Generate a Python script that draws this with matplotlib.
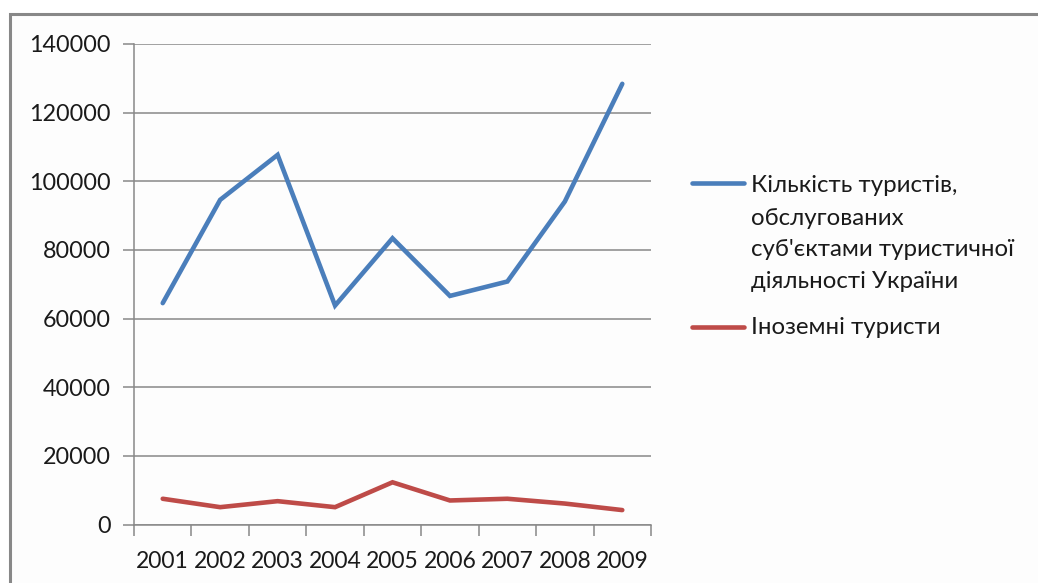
import matplotlib
matplotlib.use("Agg")
import matplotlib.pyplot as plt
from matplotlib.patches import Rectangle
from matplotlib.lines import Line2D

years = ["2001", "2002", "2003", "2004", "2005", "2006", "2007", "2008", "2009"]
tourists_total = [64500, 94600, 107700, 63800, 83400, 66600, 70800, 94100, 128400]
tourists_foreign = [7500, 5050, 6800, 5050, 12300, 7000, 7500, 6100, 4200]
label_total = ["Кількість туристів,", "обслугованих", "суб'єктами туристичної", "діяльності України"]
label_foreign = "Іноземні туристи"
yticks = [0, 20000, 40000, 60000, 80000, 100000, 120000, 140000]

plt.rcParams['font.family'] = ['Lato', 'DejaVu Sans']

W, H = 1038, 583
fig = plt.figure(figsize=(W / 100, H / 100), dpi=100)
fig.patch.set_facecolor("white")

# chart frame (extends beyond the image on right and bottom)
frame = Rectangle((10 / W, -0.1), 2.0, 1 - 14 / H + 0.1, transform=fig.transFigure,
                  facecolor="#fdfdfd", edgecolor="#888888", linewidth=2.2, zorder=-10)
fig.patches.append(frame)

ax = fig.add_axes([134 / W, (H - 524.5) / H, (651 - 134) / W, 480.5 / H])
ax.set_zorder(1)
ax.set_facecolor("none")

x = list(range(len(years)))
blue = "#4A7EBB"
red = "#BE4B48"
ax.plot(x, tourists_total, color=blue, linewidth=3.3, solid_capstyle="round",
        solid_joinstyle="miter")
ax.plot(x, tourists_foreign, color=red, linewidth=3.3, solid_capstyle="round",
        solid_joinstyle="miter")

ax.set_xlim(-0.5, len(years) - 0.5)
ax.set_ylim(0, 140000)
ax.set_yticks(yticks)
ax.set_yticklabels([str(v) for v in yticks])
ax.yaxis.grid(True, color="#888888", linewidth=1.1)
ax.set_axisbelow(True)

ax.set_xticks([i - 0.5 for i in range(len(years) + 1)])
ax.set_xticklabels([])
ax.set_xticks(x, minor=True)
ax.set_xticklabels(years, minor=True)
ax.tick_params(axis="x", which="major", length=8, width=1.1, color="#888888", direction="out")
ax.tick_params(axis="x", which="minor", length=0, pad=19, labelsize=16.5, labelcolor="#1a1a1a")
ax.tick_params(axis="y", length=8, width=1.1, color="#888888", direction="out",
               labelsize=16.8, labelcolor="#1a1a1a", pad=9)

for s in ["top", "right"]:
    ax.spines[s].set_visible(False)
for s in ["left", "bottom"]:
    ax.spines[s].set_color("#888888")
    ax.spines[s].set_linewidth(1.1)

# legend drawn Excel-style: handle aligned to first line of the label
def fy(py):
    return 1 - py / H

fig.add_artist(Line2D([692 / W, 744 / W], [fy(183), fy(183)], color=blue, linewidth=3.3,
                      solid_capstyle="round", transform=fig.transFigure))
fig.add_artist(Line2D([692 / W, 744 / W], [fy(327), fy(327)], color=red, linewidth=3.3,
                      solid_capstyle="round", transform=fig.transFigure))
for line, py in zip(label_total, [186, 218, 250, 281]):
    fig.text(751 / W, fy(py), line, fontsize=17.3, color="#1a1a1a", va="center", ha="left")
fig.text(751 / W, fy(327), label_foreign, fontsize=17.3, color="#1a1a1a", va="center", ha="left")

fig.savefig("out.png", dpi=100, facecolor="white")
